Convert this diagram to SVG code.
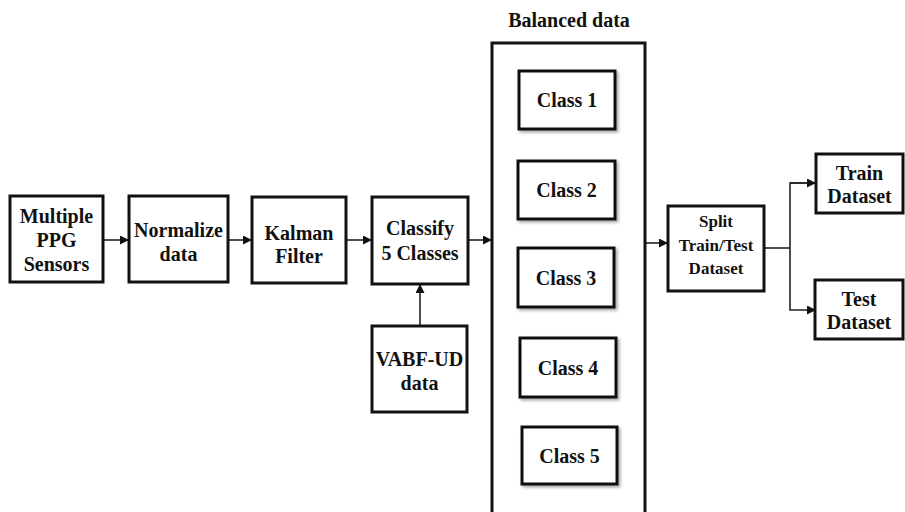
<svg xmlns="http://www.w3.org/2000/svg" width="905" height="512" viewBox="0 0 905 512">
<style>
.box{fill:#fff;stroke:#111;stroke-width:3}
.cls{fill:#fff;stroke:#111;stroke-width:3;filter:url(#sh)}
.t{font-family:"Liberation Serif","Times New Roman",serif;font-weight:bold;font-size:20px;fill:#111;text-anchor:middle}
.s{font-size:17px}
.c{fill:none;stroke:#222;stroke-width:1.6}
</style>
<defs>
<marker id="ar" viewBox="0 0 10 10" refX="10" refY="5" markerWidth="10" markerHeight="9" markerUnits="userSpaceOnUse" orient="auto">
<path d="M0,0 L10,5 L0,10 z" fill="#111"/>
</marker>
<filter id="sh" x="-10%" y="-10%" width="130%" height="140%">
<feDropShadow dx="2" dy="2" stdDeviation="1.5" flood-color="#000" flood-opacity="0.35"/>
</filter>
</defs>
<rect width="905" height="512" fill="#fff"/>
<g id="connectors">
<line class="c" x1="103" y1="240" x2="129" y2="240" marker-end="url(#ar)"/>
<line class="c" x1="228" y1="240" x2="252" y2="240" marker-end="url(#ar)"/>
<line class="c" x1="346" y1="240" x2="372" y2="240" marker-end="url(#ar)"/>
<line class="c" x1="468" y1="240" x2="492" y2="240" marker-end="url(#ar)"/>
<line class="c" x1="420" y1="326" x2="420" y2="284" marker-end="url(#ar)"/>
<line class="c" x1="645" y1="243" x2="668" y2="243" marker-end="url(#ar)"/>
<polyline class="c" points="764,248 790,248"/>
<polyline class="c" points="816,183 790,183 790,310 816,310" marker-end="url(#ar)"/>
<line class="c" x1="790" y1="183" x2="816" y2="183" marker-end="url(#ar)"/>
</g>
<g id="sensors"><rect class="box" x="10" y="196" width="93" height="86"/>
<text class="t" x="56.5" y="223">Multiple</text><text class="t" x="56.5" y="247">PPG</text><text class="t" x="56.5" y="271">Sensors</text></g>
<g id="normalize"><rect class="box" x="129" y="196" width="99" height="86"/>
<text class="t" x="178.5" y="237">Normalize</text><text class="t" x="178.5" y="261">data</text></g>
<g id="kalman"><rect class="box" x="252" y="197" width="94" height="86"/>
<text class="t" x="299" y="240">Kalman</text><text class="t" x="299" y="263">Filter</text></g>
<g id="classify"><rect class="box" x="372" y="197" width="96" height="87"/>
<text class="t" x="420" y="235">Classify</text><text class="t" x="420" y="260">5 Classes</text></g>
<g id="vabf"><rect class="box" x="372" y="326" width="95" height="86"/>
<text class="t" x="419.5" y="366">VABF-UD</text><text class="t" x="419.5" y="390">data</text></g>
<g id="balanced">
<text class="t" x="569" y="27">Balanced data</text>
<rect class="box" x="492" y="43" width="153" height="475"/>
</g>
<g id="class1"><rect class="cls" x="519" y="71" width="96" height="58"/><text class="t" x="567" y="107">Class 1</text></g>
<g id="class2"><rect class="cls" x="518" y="161" width="97" height="58"/><text class="t" x="566.5" y="197">Class 2</text></g>
<g id="class3"><rect class="cls" x="518" y="248" width="96" height="59"/><text class="t" x="566" y="285">Class 3</text></g>
<g id="class4"><rect class="cls" x="520" y="338" width="96" height="59"/><text class="t" x="568" y="375">Class 4</text></g>
<g id="class5"><rect class="cls" x="522" y="427" width="95" height="57"/><text class="t" x="569.5" y="463">Class 5</text></g>
<g id="split"><rect class="box" x="668" y="206" width="96" height="85"/>
<text class="t s" x="716" y="227">Split</text><text class="t s" x="716" y="251">Train/Test</text><text class="t s" x="716" y="274">Dataset</text></g>
<g id="train"><rect class="box" x="816" y="154" width="87" height="59"/>
<text class="t" x="859.5" y="180">Train</text><text class="t" x="859.5" y="203">Dataset</text></g>
<g id="test"><rect class="box" x="815" y="280" width="88" height="59"/>
<text class="t" x="859" y="306">Test</text><text class="t" x="859" y="329">Dataset</text></g>
</svg>
